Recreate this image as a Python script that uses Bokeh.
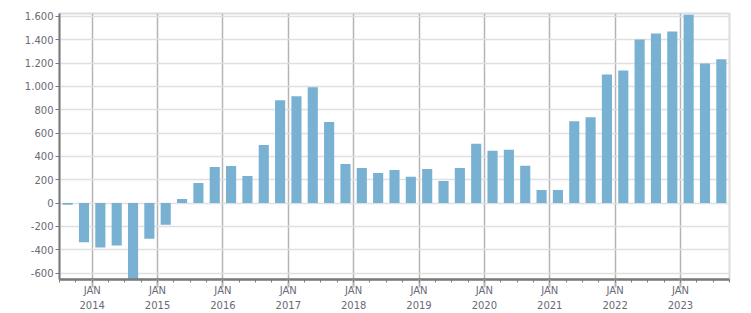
from bokeh.plotting import figure
from bokeh.models import FixedTicker, Range1d, ColumnDataSource, CustomJSTickFormatter
from bokeh.embed import file_html
from bokeh.resources import INLINE

# Quarterly data, Q3 2013 .. Q3 2023
years = [2013, 2013,
         2014, 2014, 2014, 2014,
         2015, 2015, 2015, 2015,
         2016, 2016, 2016, 2016,
         2017, 2017, 2017, 2017,
         2018, 2018, 2018, 2018,
         2019, 2019, 2019, 2019,
         2020, 2020, 2020, 2020,
         2021, 2021, 2021, 2021,
         2022, 2022, 2022, 2022,
         2023, 2023, 2023]
quarters = [3, 4] + [1, 2, 3, 4] * 9 + [1, 2, 3]
values = [-15, -336,
          -381, -364, -680, -305,
          -185, 35, 172, 310,
          318, 233, 497, 881,
          915, 992, 695, 335,
          301, 258, 284, 225,
          293, 190, 301, 509,
          449, 457, 320, 113,
          113, 702, 736, 1103,
          1137, 1402, 1453, 1470,
          1615, 1197, 1232]

year_ticks = list(range(2014, 2024))
y_ticks = [-600, -400, -200, 0, 200, 400, 600, 800, 1000, 1200, 1400, 1600]

# bar centre = middle of the quarter (decimal years)
xs = [y + (q - 1) / 4 + 0.125 for y, q in zip(years, quarters)]
src = ColumnDataSource(dict(x=xs, top=values))

p = figure(width=751, height=313, output_backend="svg", toolbar_location=None,
           x_range=Range1d(2013.5, 2023.75), y_range=Range1d(-655, 1625),
           min_border_left=59, min_border_right=22, min_border_top=13,
           min_border_bottom=33)
p.background_fill_color = "white"
p.border_fill_color = "white"
p.outline_line_color = "#dcdcdc"
p.outline_line_width = 2

p.vbar(x="x", top="top", bottom=0, width=0.155, source=src,
       fill_color="#79b1d3", line_color=None)

font = "DejaVu Sans"
label_color = "#6a6a78"

minor_q = [2013.5, 2013.75] + [y + f for y in range(2014, 2024) for f in (0.25, 0.5, 0.75)]
minor_q = [m for m in minor_q if m <= 2023.75] + year_ticks
xt = FixedTicker(ticks=year_ticks, minor_ticks=sorted(minor_q))
xa = p.xaxis[0]
xa.ticker = xt
xa.formatter = CustomJSTickFormatter(code="return 'JAN\\n' + Math.round(tick).toString();")
xa.axis_line_color = "#7a7a7a"
xa.axis_line_width = 2.5
xa.major_tick_line_color = "#b4b4b4"
xa.major_tick_line_width = 2
xa.major_tick_in = 0
xa.major_tick_out = 8
xa.minor_tick_line_color = "#7a7a7a"
xa.minor_tick_line_width = 1
xa.minor_tick_in = 0
xa.minor_tick_out = 3
xa.major_label_standoff = -3
xa.major_label_text_font = font
xa.major_label_text_font_size = "10px"
xa.major_label_text_color = label_color
xa.major_label_text_line_height = 1.4

ya = p.yaxis[0]
ya.ticker = FixedTicker(ticks=y_ticks)
ya.major_label_overrides = {t: f"{t:,}".replace(",", ".") for t in y_ticks}
ya.axis_line_color = "#7a7a7a"
ya.axis_line_width = 2
ya.major_tick_line_color = "#7a7a7a"
ya.major_tick_in = 0
ya.major_tick_out = 4
ya.minor_tick_line_color = None
ya.major_label_standoff = 2
ya.major_label_text_font = font
ya.major_label_text_font_size = "10px"
ya.major_label_text_color = label_color

p.xgrid.ticker = FixedTicker(ticks=year_ticks)
p.xgrid.grid_line_color = "#b4b4b4"
p.xgrid.grid_line_width = 1.5
p.ygrid.ticker = FixedTicker(ticks=y_ticks)
p.ygrid.grid_line_color = "#e0e0e0"
p.ygrid.grid_line_width = 1.5

open("out.html", "w").write(file_html(p, INLINE))
